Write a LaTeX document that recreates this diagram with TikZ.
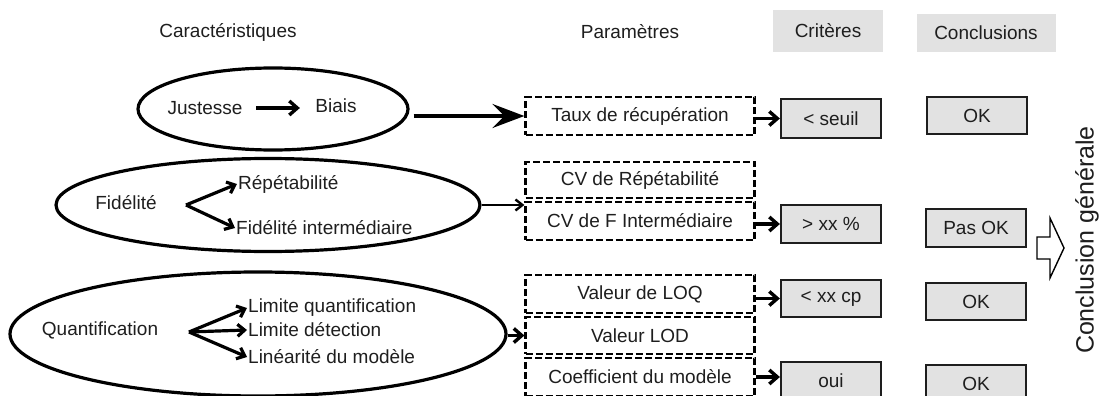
\documentclass[tikz,border=0pt]{standalone}
\usepackage{fontspec}
\setmainfont{Liberation Sans}
\usetikzlibrary{arrows.meta,shapes.geometric}
\definecolor{boxgray}{HTML}{E2E2E2}
\definecolor{inkgray}{HTML}{1E1E1E}

\begin{document}
\begin{tikzpicture}[x=1pt,y=-1pt,
    every node/.style={font=\fontsize{19}{22}\selectfont, text=inkgray},
    hdr/.style={fill=boxgray, inner sep=0pt},
    ell/.style={ellipse, draw, line width=3.2pt, inner sep=0pt},
    parbox/.style={draw, line width=2.2pt, dash pattern=on 7pt off 3pt,
                   minimum width=229pt, minimum height=38pt, inner sep=0pt},
    critbox/.style={draw=inkgray, fill=boxgray, line width=2.2pt,
                    minimum width=100pt, minimum height=38pt, inner sep=0pt},
    fork/.style={-{Straight Barb[length=7pt,width=12pt]}, line width=3.2pt},
    link/.style={-{Straight Barb[length=8pt,width=14pt]}, line width=3.4pt},
    thin link/.style={-{Straight Barb[length=7pt,width=11pt]}, line width=2.4pt}]
    \useasboundingbox (0,0) rectangle (1101,396);

    % Headers
    \node (hcar) at (228,32) {Caractéristiques};
    \node (hpar) at (630,32) {Paramètres};
    \node[hdr, minimum width=110pt, minimum height=42pt] (hcri) at (828,31) {Critères};
    \node[hdr, minimum width=139pt, minimum height=38pt] (hcon) at (986,33) {Conclusions};

    % Ellipses
    \node[ell, minimum width=270pt, minimum height=82pt] (ellJ) at (273,109) {};
    \node[ell, minimum width=424pt, minimum height=93pt] (ellF) at (268,205) {};
    \node[ell, minimum width=496pt, minimum height=124pt] (ellQ) at (258,334) {};

    % Justesse
    \node (just) at (205,108) {Justesse};
    \node (biais) at (336,106) {Biais};
    \draw[link, shorten <=10pt, shorten >=12pt] (just.east) -- (just.east -| biais.west);

    % Fidelite
    \node (fid) at (126,203) {Fidélité};
    \coordinate (forkF) at (186,205);
    \node[anchor=west, inner sep=1pt] (rep) at (237,184) {Répétabilité};
    \node[anchor=west, inner sep=1pt] (fint) at (235,228) {Fidélité intermédiaire};
    \draw[fork] (forkF) -- (rep.west);
    \draw[fork] (forkF) -- (fint.west);

    % Quantification
    \node (quant) at (100,330) {Quantification};
    \coordinate (forkQ) at (189,332);
    \node[anchor=west, inner sep=1pt] (lq) at (247,308) {Limite quantification};
    \node[anchor=west, inner sep=1pt] (ld) at (247,330) {Limite détection};
    \node[anchor=west, inner sep=1pt] (lin) at (247,357) {Linéarité du modèle};
    \draw[fork] (forkQ) -- (lq.west);
    \draw[fork] (forkQ) -- (ld.west);
    \draw[fork] (forkQ) -- (lin.west);

    % Parametres
    \node[parbox] (boxT) at (640,116) {Taux de récupération};
    \node[parbox, minimum height=36pt] (boxR) at (640,180) {CV de Répétabilité};
    \node[parbox] (boxF) at (640,221) {CV de F Intermédiaire};
    \node[parbox] (boxQ) at (640,294) {Valeur de LOQ};
    \node[parbox, minimum height=37pt] (boxD) at (640,335.5) {Valeur LOD};
    \node[parbox] (boxC) at (640,377) {Coefficient du modèle};

    % Criteres
    \node[critbox, minimum height=39pt] (critT) at (831,118.5) {< seuil};
    \node[critbox] (critF) at (831,224) {> xx \%};
    \node[critbox, minimum height=37pt] (critQ) at (831,298.5) {< xx cp};
    \node[critbox] (critC) at (831,381) {oui};

    % Conclusions
    \node[critbox, minimum height=37pt] (conT) at (977,115.5) {OK};
    \node[critbox] (conF) at (976,228) {Pas OK};
    \node[critbox, minimum height=37pt] (conQ) at (976,301.5) {OK};
    \node[critbox] (conC) at (976,384) {OK};

    % Ellipses to parametres
    \draw[-{Stealth[length=32pt,width=24pt,inset=12pt]}, line width=4pt]
        (ellJ.east |- boxT.west) ++(4,0) -- (boxT.west);
    \draw[thin link] (ellF.east) -- (ellF.east -| boxF.west);
    \draw[link] (ellQ.east |- boxD.west) -- (boxD.west);

    % Parametres to criteres
    \draw[link] (boxT.east |- critT.west) -- (critT.west);
    \draw[link] (boxF.east |- critF.west) -- (critF.west);
    \draw[link] (boxQ.east |- critQ.west) -- (critQ.west);
    \draw[link] (boxC.east) -- (boxC.east -| critC.west);

    % General conclusion
    \draw[line width=1.4pt, fill=white] (1037,237) -- (1050,237) -- (1050,218) -- (1064,248)
        -- (1050,278) -- (1050,259) -- (1037,259) -- cycle;
    \node[rotate=90, font=\fontsize{25}{28}\selectfont] (cg) at (1087,240) {Conclusion générale};
\end{tikzpicture}
\end{document}
